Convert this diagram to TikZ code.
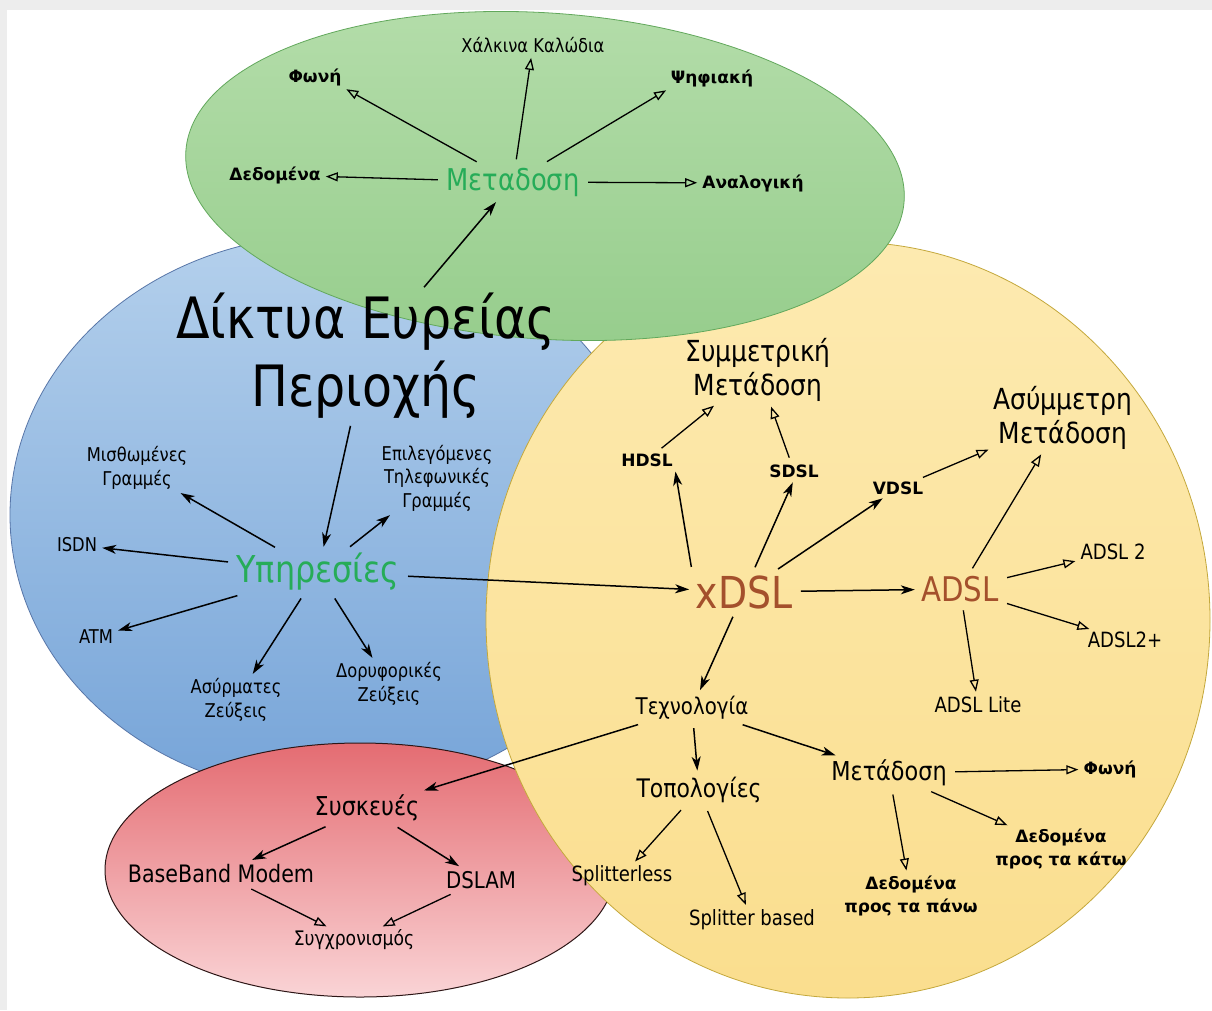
\documentclass[tikz,border=0pt]{standalone}
\usepackage{fontspec}
\setmainfont{DejaVu Sans}[FakeStretch=0.86]
\newfontfamily\widefont{DejaVu Sans}
\usetikzlibrary{arrows.meta}
\usetikzlibrary{positioning}
\definecolor{grnfill}{RGB}{180,221,170}
\definecolor{grnfillb}{RGB}{150,205,140}
\definecolor{grnline}{RGB}{98,168,92}
\definecolor{blufill}{RGB}{180,208,236}
\definecolor{blufillb}{RGB}{118,164,216}
\definecolor{bluline}{RGB}{88,118,168}
\definecolor{yelfill}{RGB}{253,234,176}
\definecolor{yelfillb}{RGB}{250,222,142}
\definecolor{yelline}{RGB}{196,168,60}
\definecolor{redfill}{RGB}{228,108,114}
\definecolor{redfillb}{RGB}{250,212,214}
\definecolor{redline}{RGB}{45,22,22}
\definecolor{grntxt}{RGB}{38,172,88}
\definecolor{brntxt}{RGB}{164,80,44}
\newcommand\setfs[2]{\fontsize{#1}{#2}\selectfont}
\tikzset{lbl/.style={font=\setfs{19}{23.5},align=center,inner sep=2pt}}
\tikzset{ylbl/.style={font=\setfs{21}{25},align=center,inner sep=2pt}}
\tikzset{blbl/.style={font=\widefont\bfseries\setfs{17}{23.5},align=center,inner sep=2pt}}
\tikzset{fwd/.style={draw=black,line width=1.5pt,-{Stealth[length=14pt,width=9pt,inset=4pt]},shorten >=3pt,shorten <=5pt}}
\tikzset{opn/.style={draw=black,line width=1.3pt,-{Triangle[open,length=12pt,width=9pt]},shorten >=3pt,shorten <=5pt}}
\tikzset{fwds/.style={every edge/.style=fwd}}
\tikzset{opns/.style={every edge/.style=opn}}

\begin{document}
\begin{tikzpicture}[x=1pt,y=-1pt]
  \useasboundingbox (0,0) rectangle (1212,1010);
  \fill[black!7] (0,0) rectangle (1212,1010);
  \fill[white] (7,10) rectangle (1212,1010);

  % the four areas
  \shade[top color=blufill,bottom color=blufillb,draw=bluline,line width=0.8pt]
    (330,515) ellipse (320 and 280);
  \shade[top color=redfill,bottom color=redfillb,draw=redline,line width=1pt]
    (360,870) ellipse (255 and 127);
  \shade[top color=yelfill,bottom color=yelfillb,draw=yelline,line width=0.8pt]
    (848,620) ellipse (362 and 378);
  \shade[top color=grnfill,bottom color=grnfillb,draw=grnline,line width=0.8pt,
    rotate around={-4:(545,176)}] (545,176) ellipse (360 and 163);

  % transmission
  \node [text=grntxt,font=\setfs{30}{34}] (Met) at (513,182) {Μεταδοση};
  \node [lbl] (Xal) at (533,45) {Χάλκινα Καλώδια};
  \node [blbl] (Fon) at (315,77) {Φωνή};
  \node [blbl] (Psi) at (712,78) {Ψηφιακή};
  \node [blbl] (Ded) at (275,175) {Δεδομένα};
  \node [blbl] (Ana) at (753,183) {Αναλογική};

  % services
  \node [font=\setfs{57}{68},align=center,inner sep=2pt] (Tit) at (366,356)
    {Δίκτυα Ευρείας\\Περιοχής};
  \node [text=grntxt,font=\setfs{37}{40}] (Ypi) at (318,572) {Υπηρεσίες};
  \node [lbl] (Mis) at (137,468) {Μισθωμένες\\Γραμμές};
  \node [lbl] (Isdn) at (77,545) {ISDN};
  \node [lbl] (Atm) at (96,637) {ATM};
  \node [lbl] (Asy) at (236,700) {Ασύρματες\\Ζεύξεις};
  \node [lbl] (Dor) at (389,684) {Δορυφορικές\\Ζεύξεις};
  \node [lbl] (Epi) at (437,478) {Επιλεγόμενες\\Τηλεφωνικές\\Γραμμές};

  % xDSL
  \node [text=brntxt,font=\setfs{44}{48}] (X) at (744,592) {xDSL};
  \node [text=brntxt,font=\setfs{34}{38}] (A) at (960,589) {ADSL};
  \node [blbl] (H) at (647,460) {HDSL};
  \node [blbl] (S) at (794,471) {SDSL};
  \node [blbl] (V) at (898,488) {VDSL};
  \node [font=\setfs{29}{34},align=center,inner sep=2pt] (Sym) at (758,370)
    {Συμμετρική\\Μετάδοση};
  \node [font=\setfs{29}{34},align=center,inner sep=2pt] (Asym) at (1063,418)
    {Ασύμμετρη\\Μετάδοση};
  \node [ylbl] (A2) at (1113,552) {ADSL 2};
  \node [ylbl] (Ap) at (1125,640) {ADSL2+};
  \node [ylbl] (Al) at (978,705) {ADSL Lite};
  \node [font=\setfs{23}{27}] (Tex) at (692,708) {Τεχνολογία};
  \node [font=\setfs{25.5}{29}] (Top) at (699,790) {Τοπολογίες};
  \node [font=\setfs{26}{30}] (Met2) at (889,773) {Μετάδοση};
  \node [blbl] (Fon2) at (1110,769) {Φωνή};
  \node [blbl] (Kat) at (1061,849) {Δεδομένα\\προς τα κάτω};
  \node [blbl] (Pan) at (911,896) {Δεδομένα\\προς τα πάνω};
  \node [ylbl] (Sl) at (622,876) {Splitterless};
  \node [ylbl] (Sb) at (752,920) {Splitter based};

  % devices
  \node [font=\setfs{26}{30}] (Sys) at (367,808) {Συσκευές};
  \node [font=\setfs{24}{28}] (Bbm) at (221,874) {BaseBand Modem};
  \node [font=\setfs{23}{27}] (Dsl) at (481,880) {DSLAM};
  \node [lbl,font=\setfs{20}{24}] (Syg) at (354,940) {Συγχρονισμός};

  \path [opns] (Met) edge (Fon.south east) edge (Xal) edge (Psi.south west)
                     edge (Ded) edge (Ana);
  \path [fwds] (Tit) edge (Met)
               (Tit) edge (Ypi);
  \path [fwds] (Ypi) edge (Mis) edge (Isdn) edge (Atm) edge (Asy) edge (Dor)
                     edge (Epi) edge (X);
  \path [fwds] (X.north west) edge (H.south east)
               (X) edge (S.south) edge (V) edge (A) edge (Tex);
  \path [opns] (H) edge (Sym)
               (S) edge (Sym)
               (V) edge (Asym)
               (A) edge (Asym) edge (A2) edge (Ap) edge (Al);
  \path [fwds] (Tex) edge (Sys) edge (Top) edge (Met2);
  \path [opns] (Top) edge (Sl) edge (Sb)
               (Met2) edge (Fon2) edge (Kat) edge (Pan);
  \path [fwds] (Sys) edge (Bbm) edge (Dsl);
  \path [opns] (Bbm) edge (Syg)
               (Dsl) edge (Syg);
\end{tikzpicture}
\end{document}
